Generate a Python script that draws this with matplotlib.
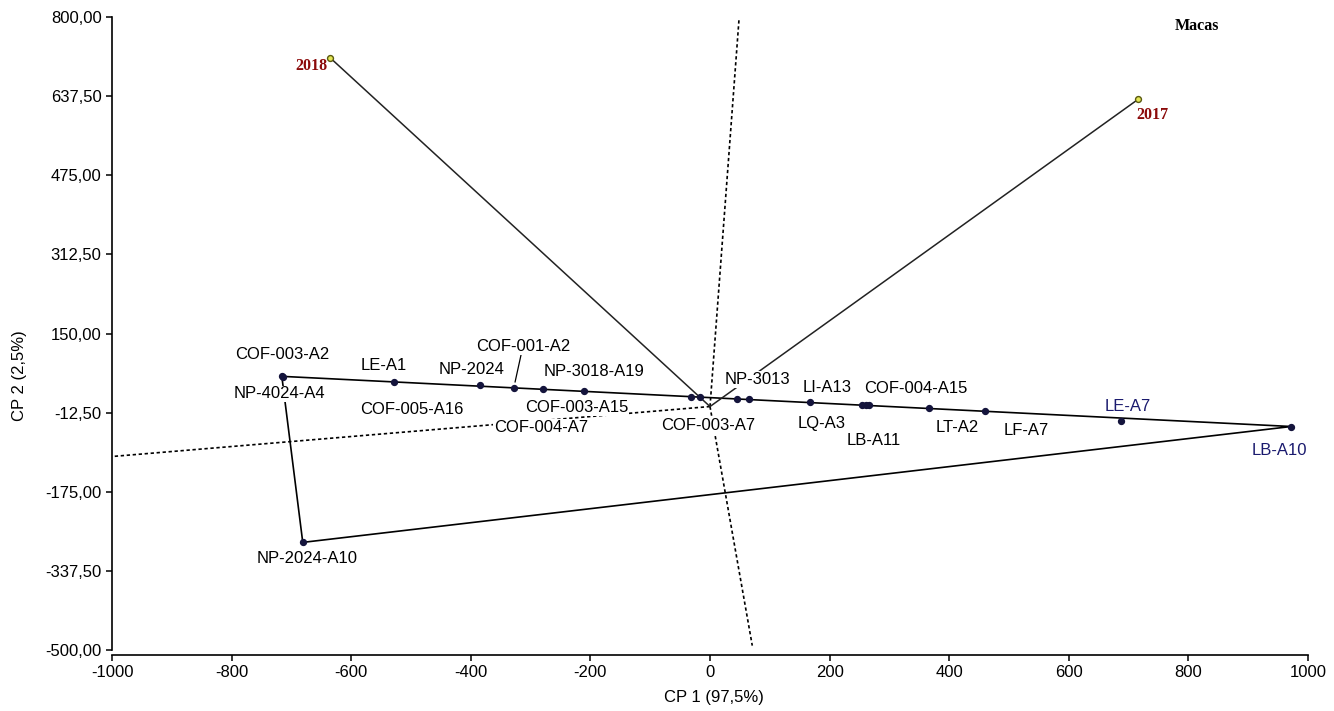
import numpy as np
import matplotlib.pyplot as plt
from matplotlib.ticker import FuncFormatter

plt.rcParams['font.family'] = ['Liberation Sans', 'DejaVu Sans']
plt.rcParams['axes.unicode_minus'] = False

# scores des génotypes (CP1, CP2)
genotipos = ["COF-003-A2", "NP-4024-A4", "LE-A1", "NP-2024", "COF-001-A2",
             "COF-005-A16", "NP-3018-A19", "COF-003-A15", "COF-004-A7",
             "COF-003-A7", "NP-3013", "LI-A13", "LQ-A3", "LB-A11",
             "COF-004-A15", "LT-A2", "LF-A7", "LE-A7", "LB-A10", "NP-2024-A10"]
cp1 = [-716, -714, -528, -385, -328, -279, -211, -32, -17, 45, 65, 167,
       254, 261, 266, 366, 460, 687, 972, -681]
cp2 = [62, 61, 50, 44, 39, 35, 31, 19, 19, 15, 15, 9, 4, 4, 4, -4, -10,
       -30, -41, -279]

# ambiances (années)
ambientes = ["2017", "2018"]
amb_cp1 = [716, -635]
amb_cp2 = [631, 716]

# sommets du polygone
poligono = ["COF-003-A2", "LB-A10", "NP-2024-A10"]

# décalage des étiquettes (pixels)
dec = {
    "COF-003-A2": (0, 22), "NP-4024-A4": (-4, -17), "LE-A1": (-11, 17),
    "NP-2024": (-8, 16), "COF-001-A2": (9, 41), "COF-005-A16": (-131, -20),
    "NP-3018-A19": (10, 20), "COF-003-A15": (-114, -10),
    "COF-004-A7": (-159, -30), "COF-003-A7": (-29, -26), "NP-3013": (9, 20),
    "LI-A13": (17, 15), "LQ-A3": (-40, -19), "LB-A11": (8, -36),
    "COF-004-A15": (47, 16), "LT-A2": (28, -19), "LF-A7": (41, -19),
    "LE-A7": (7, 15), "LB-A10": (-12, -24), "NP-2024-A10": (4, -16),
}
bleus = ["LE-A7", "LB-A10"]

pts = {g: np.array([x, y], dtype=float) for g, x, y in zip(genotipos, cp1, cp2)}


def rayon(a, b):
    # rayon depuis l'origine, perpendiculaire au côté (a, b)
    d = b - a
    t = -np.dot(a, d) / np.dot(d, d)
    u = a + t * d
    u = u / np.linalg.norm(u)
    s = []
    for k, (lo, hi) in enumerate([(-1000, 1000), (-491, 794)]):
        if u[k] > 0:
            s.append(hi / u[k])
        elif u[k] < 0:
            s.append(lo / u[k])
    return u * min(s)


fig = plt.figure(figsize=(13.34, 7.11), dpi=100)
ax = fig.add_axes([112 / 1334, 61 / 711, 1196 / 1334, 633 / 711])

# polygone + rayons
sommets = [pts[g] for g in poligono]
px = [p[0] for p in sommets] + [sommets[0][0]]
py = [p[1] for p in sommets] + [sommets[0][1]]
ax.plot(px, py, color="black", lw=1.2, zorder=2)
for i in range(len(sommets)):
    r = rayon(sommets[i], sommets[(i + 1) % len(sommets)])
    ax.plot([0, r[0]], [0, r[1]], color="black", lw=1.2,
            linestyle=(0, (2, 1.6)), zorder=1)

# vecteurs des ambiances
for x, y in zip(amb_cp1, amb_cp2):
    ax.plot([0, x], [0, y], color="#222222", lw=1.1, zorder=2)
ax.scatter(amb_cp1, amb_cp2, s=18, facecolor="#e4e655", edgecolor="#5a5a10",
           lw=1.0, zorder=5)
dec_amb = {"2017": (14, -16), "2018": (-19, -8)}
for a, x, y in zip(ambientes, amb_cp1, amb_cp2):
    ax.annotate(a, (x, y), xytext=dec_amb[a], textcoords="offset pixels",
                ha="center", va="center", fontsize=11.5, fontweight="bold",
                family="Liberation Serif", color="#8b0a0a", zorder=4)

# génotypes
ax.scatter(cp1, cp2, s=18, color="#14143c", zorder=5)
for g, x, y in zip(genotipos, cp1, cp2):
    kw = {}
    if g == "COF-001-A2":
        kw["arrowprops"] = dict(arrowstyle="-", lw=0.9, color="black",
                                shrinkA=0, shrinkB=4)
    ax.annotate(g, (x, y), xytext=dec[g], textcoords="offset pixels",
                ha="center", va="center", fontsize=12,
                color="#1a1a6e" if g in bleus else "black",
                bbox=dict(boxstyle="square,pad=0.05", fc="white", ec="none"),
                zorder=4, **kw)

ax.text(814, 781, "Macas", ha="center", va="center", fontsize=11.5,
        fontweight="bold", family="Liberation Serif", color="black")

ax.set_xlim(-1000, 1000)
ax.set_ylim(-500, 800)
ax.set_xticks(np.arange(-1000, 1001, 200))
ax.set_yticks(np.linspace(-500, 800, 9))
ax.yaxis.set_major_formatter(FuncFormatter(lambda v, _: f"{v:.2f}".replace(".", ",")))
ax.spines["top"].set_visible(False)
ax.spines["right"].set_visible(False)
ax.spines["bottom"].set_position(("outward", 3.6))
for s in ["left", "bottom"]:
    ax.spines[s].set_linewidth(1.2)
ax.tick_params(direction="out", length=4, width=1.1, labelsize=12)

ax.set_xlabel("CP 1 (97,5%)", fontsize=12)
ax.set_ylabel("CP 2 (2,5%)", fontsize=12)
ax.xaxis.set_label_coords(0.503, -0.063)
ax.yaxis.set_label_coords(-0.071, 0.434)

fig.savefig("out.png", dpi=100)
